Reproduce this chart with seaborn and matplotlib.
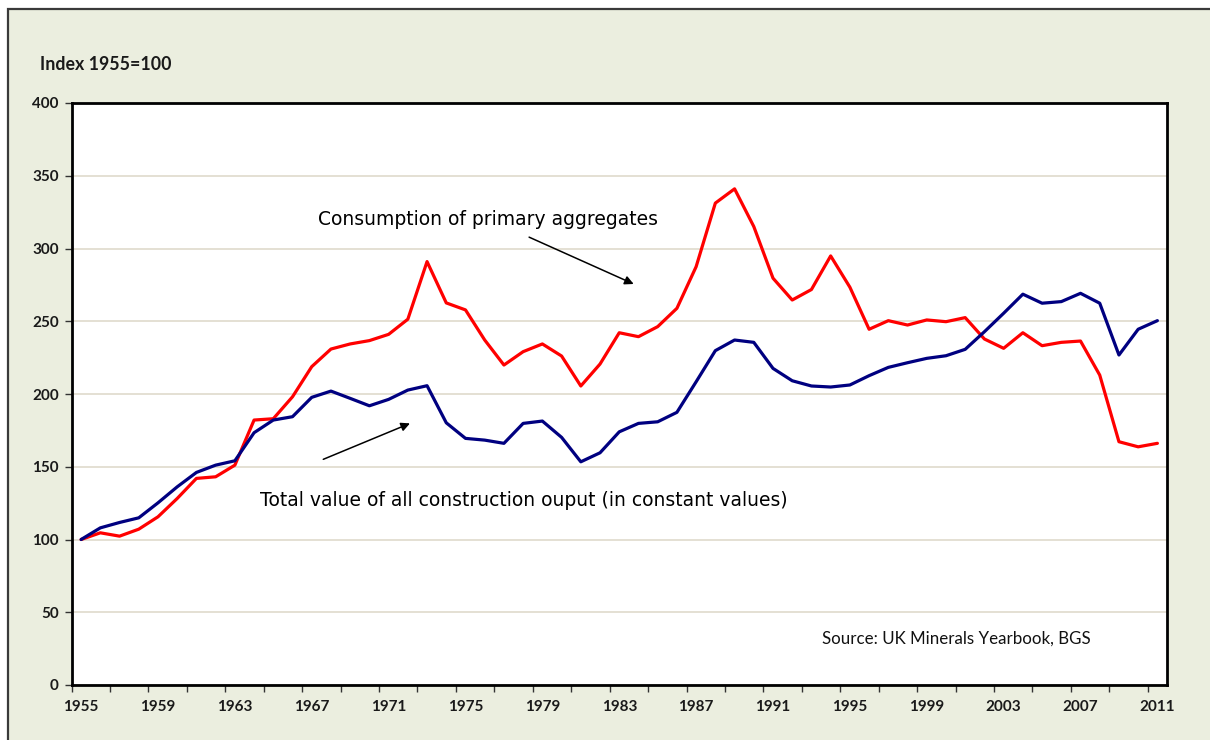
import matplotlib
matplotlib.use("Agg")
import matplotlib.pyplot as plt
import matplotlib.patches as mpatches
import numpy as np
import pandas as pd
import seaborn as sns

# Data (Index 1955=100)
years = list(range(1955, 2012))

aggregates = [
    100, 104.6, 102.3, 107.1, 115.6, 128.2, 142.0, 143.1, 151.1, 182.1,
    183.0, 198.1, 218.8, 230.9, 234.4, 236.7, 241.0, 251.4, 291.0, 262.6,
    257.8, 237.1, 219.9, 229.1, 234.4, 226.1, 205.5, 220.6, 242.1, 239.4,
    246.3, 258.9, 287.5, 331.2, 341.0, 315.1, 279.6, 264.6, 271.8, 294.9,
    273.4, 244.5, 250.4, 247.4, 250.9, 249.7, 252.5, 237.8, 231.4, 242.1,
    233.2, 235.5, 236.4, 213.0, 167.2, 163.7, 166.1,
]

construction = [
    100, 108.0, 111.7, 114.9, 125.2, 136.2, 146.1, 151.1, 154.1, 173.4,
    182.1, 184.4, 197.7, 202.0, 197.0, 191.9, 196.3, 202.7, 205.7, 180.2,
    169.5, 168.3, 166.1, 179.8, 181.4, 170.2, 153.4, 159.6, 174.0, 179.8,
    180.9, 187.4, 208.4, 229.8, 237.1, 235.5, 217.6, 209.1, 205.5, 204.8,
    206.2, 212.6, 218.3, 221.5, 224.5, 226.3, 230.7, 242.8, 255.5, 268.6,
    262.4, 263.5, 269.2, 262.4, 226.8, 244.5, 250.4,
]

label_years = list(range(1955, 2012, 4))
y_ticks = list(range(0, 401, 50))

agg_label = "Consumption of primary aggregates"
con_label = "Total value of all construction ouput (in constant values)"

BG = "#EBEEDF"
GRID = "#E4E0D3"

df = pd.DataFrame({
    "year": years * 2,
    "index": aggregates + construction,
    "series": [agg_label] * len(years) + [con_label] * len(years),
})

sns.set_style("white")
plt.rcParams["font.family"] = ["DejaVu Sans"]

fig = plt.figure(figsize=(12.1, 7.4), dpi=100)
fig.patch.set_facecolor("white")

# outer chart-area panel with dark border (cut off at right/bottom like the source)
panel = mpatches.Rectangle((8 / 1210, -0.05), 1.1, 0.05 + 731 / 740,
                           transform=fig.transFigure, facecolor=BG,
                           edgecolor="#3a3a3a", linewidth=1.6, zorder=-10)
fig.patches.append(panel)

ax = fig.add_axes([71.5 / 1210, 55 / 740, 1095.5 / 1210, 582 / 740])
ax.set_zorder(1)
ax.set_facecolor("white")

sns.lineplot(data=df, x="year", y="index", hue="series", ax=ax,
             palette={agg_label: "#FF0000", con_label: "#000080"},
             linewidth=2.3, legend=False, zorder=3)

ax.set_xlim(1954.5, 2011.5)
ax.set_ylim(0, 400)

# labels at category centres, tick marks between categories
ax.set_xticks(label_years)
ax.set_xticklabels([str(y) for y in label_years])
ax.set_xticks(np.arange(1954.5, 2011, 2), minor=True)
ax.tick_params(axis="x", which="major", length=0, pad=11)
ax.tick_params(axis="x", which="minor", length=5, width=1, color="#333333",
               direction="out", bottom=True)

ax.set_yticks(y_ticks)
ax.tick_params(axis="y", which="major", length=5, width=1, color="#333333",
               direction="out", left=True, pad=4)

for lab in ax.get_xticklabels() + ax.get_yticklabels():
    lab.set_fontfamily("Lato")
    lab.set_fontweight("bold")
    lab.set_fontsize(11)
    lab.set_color("#1a1a1a")

ax.grid(axis="y", color=GRID, linewidth=1.4, zorder=0)
ax.grid(axis="x", visible=False)
for sp in ax.spines.values():
    sp.set_color("black")
    sp.set_linewidth(2)
    sp.set_zorder(4)

ax.set_xlabel("")
ax.set_ylabel("")

fig.text(40 / 1210, 1 - 64.5 / 740, "Index 1955=100", family="Lato",
         fontweight="bold", fontsize=12.8, va="center", ha="left",
         color="#1a1a1a")

ax.text(1967.32, 316.2, agg_label, fontsize=13.5, color="black",
        ha="left", va="baseline", zorder=5)
ax.text(1964.3, 123.1, con_label, fontsize=13.5, color="black",
        ha="left", va="baseline", zorder=5)
ax.text(1993.54, 28.6, "Source: UK Minerals Yearbook, BGS", family="Lato",
        fontsize=12.2, color="#111111", ha="left", va="baseline", zorder=5)

arrow_kw = dict(arrowstyle="-|>", color="black", lw=1.1, mutation_scale=13,
                shrinkA=0, shrinkB=0)
ax.annotate("", xy=(1983.75, 275.6), xytext=(1978.31, 307.8),
            arrowprops=arrow_kw, zorder=5)
ax.annotate("", xy=(1972.11, 179.8), xytext=(1967.6, 155.1),
            arrowprops=arrow_kw, zorder=5)

fig.savefig("out.png", dpi=100, facecolor=fig.get_facecolor())
